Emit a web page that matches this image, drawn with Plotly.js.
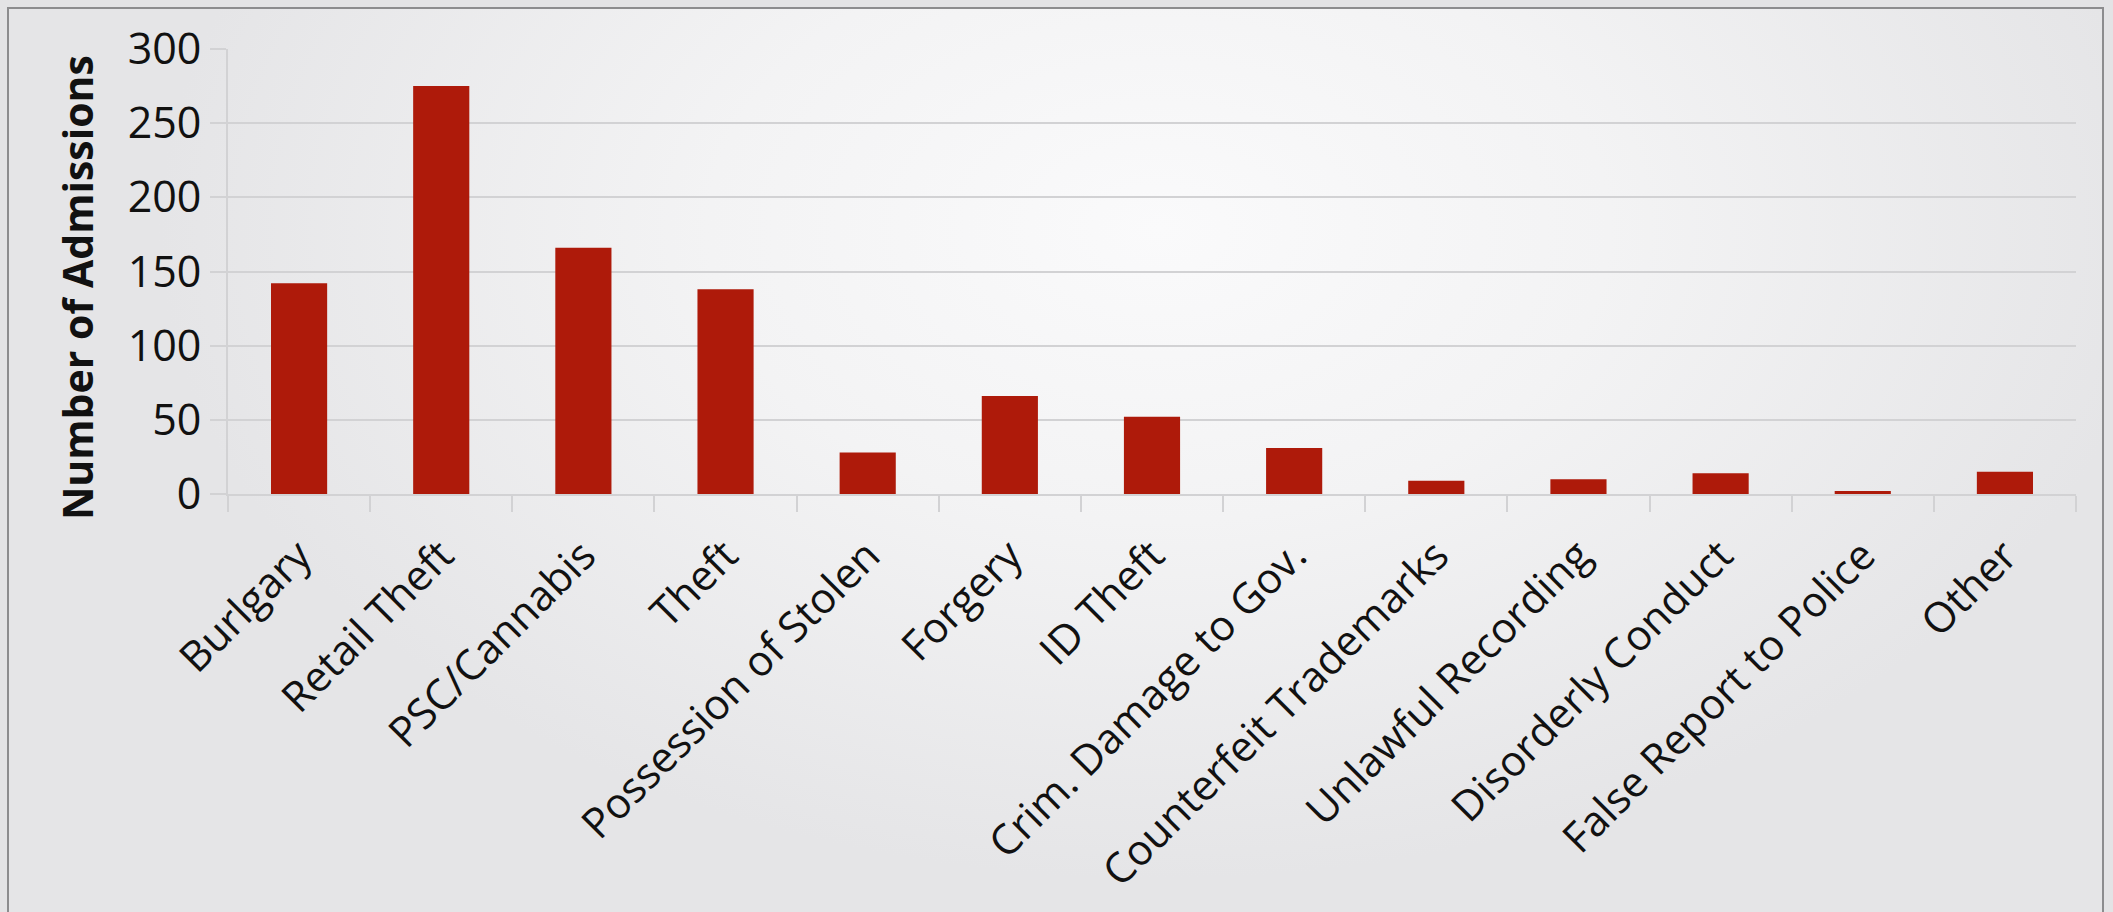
<!DOCTYPE html>
<html>
<head>
<meta charset="utf-8">
<script src="https://cdn.plot.ly/plotly-3.0.1.min.js"></script>
<style>
  html, body { margin: 0; padding: 0; }
  body { width: 2113px; height: 912px; background: #e3e3e5; overflow: hidden; position: relative; }
  #frame { position: absolute; left: 7px; top: 7px; width: 2097px; height: 920px;
           border: 2px solid #8c8c8e; box-sizing: border-box;
           background: radial-gradient(ellipse 1000px 650px at 1150px 220px, #fafafb 0%, #f3f3f4 45%, #e5e5e7 100%); }
  #chart { position: absolute; left: 0; top: 0; width: 2113px; height: 912px; }
</style>
</head>
<body>
<div id="frame"></div>
<div id="chart"></div>
<script>
const categories = ["Burlgary", "Retail Theft", "PSC/Cannabis", "Theft", "Possession of Stolen",
  "Forgery", "ID Theft", "Crim. Damage to Gov.", "Counterfeit Trademarks", "Unlawful Recording",
  "Disorderly Conduct", "False Report to Police", "Other"];
const admissions = [142, 275, 166, 138, 28, 66, 52, 31, 9, 10, 14, 2, 15];
const yTickValues = [0, 50, 100, 150, 200, 250, 300];
const yTitle = "Number of Admissions";

const trace = {
  type: "bar",
  x: categories,
  y: admissions,
  marker: { color: "#ae1a0a" },
  hoverinfo: "x+y"
};

const gridColor = "#d2d2d4";
const layout = {
  width: 2113,
  height: 912,
  paper_bgcolor: "rgba(0,0,0,0)",
  plot_bgcolor: "rgba(0,0,0,0)",
  margin: { l: 228, r: 37, t: 49, b: 418, pad: 0 },
  bargap: 0.605,
  showlegend: false,
  font: { family: "Open Sans, sans-serif", color: "#111111" },
  xaxis: {
    type: "category",
    tickangle: -45,
    tickfont: { size: 42, family: "Open Sans, sans-serif", color: "#111111" },
    ticks: "outside",
    tickson: "boundaries",
    ticklen: 16,
    tickwidth: 2,
    tickcolor: gridColor,
    ticklabelstandoff: 18,
    showline: true,
    linecolor: gridColor,
    linewidth: 2,
    showgrid: false,
    zeroline: false
  },
  yaxis: {
    range: [0, 300],
    tickvals: yTickValues,
    ticktext: yTickValues.map(String),
    tickfont: { size: 43, family: "Open Sans, sans-serif", color: "#111111" },
    ticks: "outside",
    ticklen: 16,
    tickwidth: 2,
    tickcolor: gridColor,
    showgrid: true,
    gridcolor: gridColor,
    gridwidth: 2,
    showline: true,
    linecolor: gridColor,
    linewidth: 2,
    zeroline: false
  },
  annotations: [{
    text: yTitle,
    xref: "paper", yref: "paper",
    x: -0.0817, y: 0.463,
    xanchor: "center", yanchor: "middle",
    textangle: -90,
    showarrow: false,
    font: { size: 41, family: "Open Sans, sans-serif", weight: "bold", color: "#111111" }
  }]
};

Plotly.newPlot("chart", [trace], layout, { displayModeBar: false, staticPlot: true });
</script>
</body>
</html>
